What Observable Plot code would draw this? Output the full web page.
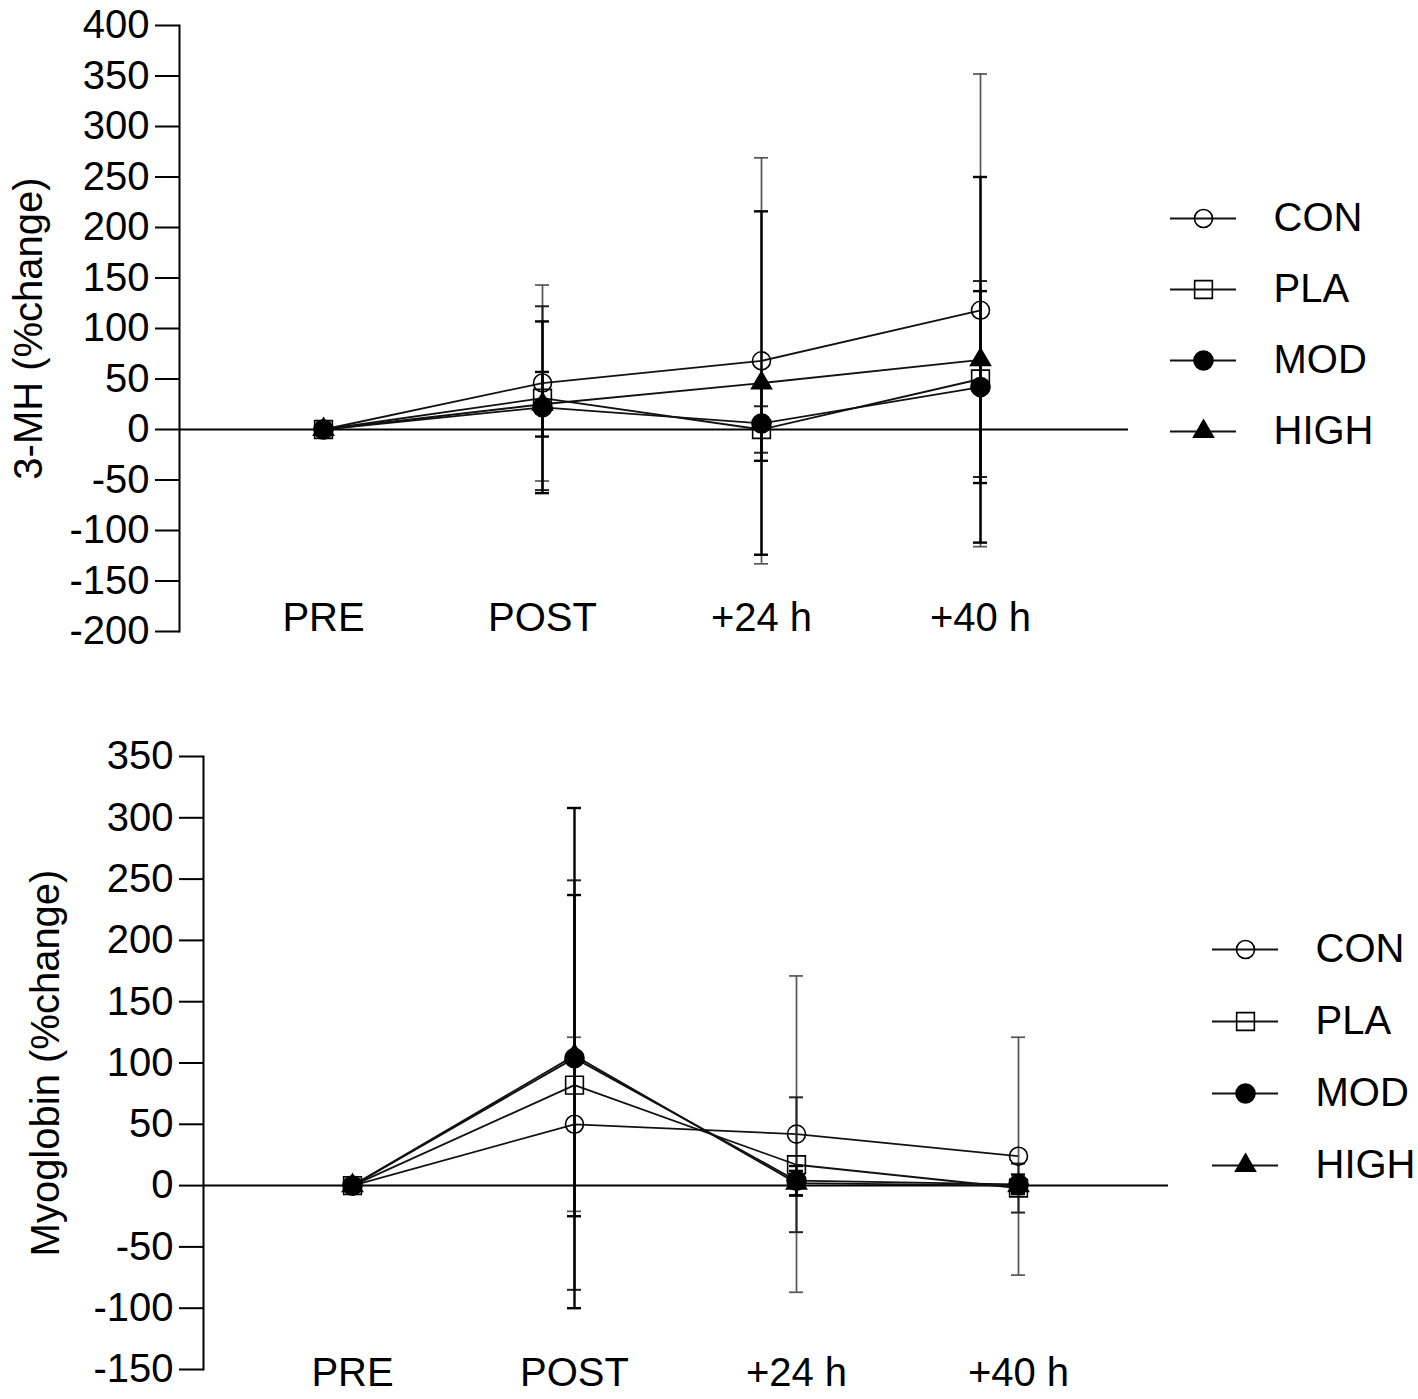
<!DOCTYPE html>
<html><head><meta charset="utf-8">
<script src="https://cdn.jsdelivr.net/npm/d3@7"></script>
<script src="https://cdn.jsdelivr.net/npm/@observablehq/plot@0.6"></script>
<style>
body{margin:0;background:#fff;width:1418px;height:1399px;position:relative;overflow:hidden;font-family:"Liberation Sans",Arial,sans-serif;}
.p{position:absolute;}
svg{max-width:none !important;overflow:visible;}
</style></head><body>
<div id="top" class="p" style="left:0;top:0;width:1418px"></div>
<div id="bottom" class="p" style="left:0;top:700px;width:1418px"></div>
<div id="legTop" class="p" style="left:1170px;top:198px;width:248px"></div>
<div id="legBot" class="p" style="left:1212px;top:928px;width:206px"></div>
<script>
// ---- data ----
const categories = ["PRE", "POST", "+24 h", "+40 h"];
const series = ["CON", "PLA", "MOD", "HIGH"];

// 3-MH (%change): means and SD per group, PRE/POST/+24h/+40h
const mhCON  = [0, 46, 68, 118];
const mhPLA  = [0, 31, 0, 50];
const mhMOD  = [0, 22, 6, 42];
const mhHIGH = [0, 25, 46, 69];
const mhCONsd  = [0, 97, 201, 234];
const mhPLAsd  = [0, 91, 23, 97];
const mhMODsd  = [0, 85, 37, 95];
const mhHIGHsd = [0, 32, 170, 181];
const mhTicks = [-200, -150, -100, -50, 0, 50, 100, 150, 200, 250, 300, 350, 400];

// Myoglobin (%change)
const mbCON  = [0, 50, 42, 24];
const mbPLA  = [0, 82, 17, -2];
const mbMOD  = [0, 104, 4, 1];
const mbHIGH = [0, 106, 2, 0];
const mbCONsd  = [0, 71, 129, 97];
const mbPLAsd  = [0, 167, 55, 20];
const mbMODsd  = [0, 204, 12, 8];
const mbHIGHsd = [0, 131, 10, 6];
const mbTicks = [-150, -100, -50, 0, 50, 100, 150, 200, 250, 300, 350];

// ---- styling per group ----
const symbolOf = {CON: "circle", PLA: "square", MOD: "circle", HIGH: "triangle"};
const fillOf = {CON: "none", PLA: "none", MOD: "black", HIGH: "black"};
const rOf = {CON: 9, PLA: 10, MOD: 9.5, HIGH: 7.4};
const barColor = {CON: "#555", PLA: "#222", MOD: "#000", HIGH: "#000"};
const barWidth = {CON: 1.7, PLA: 2, MOD: 2.4, HIGH: 2.4};
const FONT = "Liberation Sans, Arial, sans-serif";

function rows(means, sds) {
  return series.flatMap((s, i) => categories.map((c, j) => ({group: s, cat: c, mean: means[i][j], sd: sds[i][j]})));
}

function panel({data, ticks, domain, label, width, height, mt, mb, ml, mr, xr, labelOffset, xdy}) {
  const marks = [
    Plot.axisY({ticks, tickSize: 24, tickPadding: 6, strokeWidth: 2, tickFormat: d => String(d),
      label, labelAnchor: "center", labelArrow: "none", labelOffset}),
    Plot.axisX({tickSize: 0, tickPadding: 0, dy: xdy, label: null}),
    Plot.frame({anchor: "left", strokeWidth: 2}),
    Plot.ruleY([0], {strokeWidth: 2})
  ];
  for (const s of series) {
    marks.push(Plot.line(data.filter(d => d.group === s), {x: "cat", y: "mean", stroke: "#111", strokeWidth: 1.8}));
  }
  for (const s of series) {
    const e = data.filter(d => d.group === s && d.sd > 0);
    const st = {stroke: barColor[s], strokeWidth: barWidth[s]};
    marks.push(Plot.ruleX(e, {x: "cat", y1: d => d.mean - d.sd, y2: d => d.mean + d.sd, ...st}));
    marks.push(Plot.ruleY(e, {y: d => d.mean + d.sd, x1: "cat", x2: "cat", insetLeft: -7, insetRight: -7, ...st}));
    marks.push(Plot.ruleY(e, {y: d => d.mean - d.sd, x1: "cat", x2: "cat", insetLeft: -7, insetRight: -7, ...st}));
  }
  for (const s of series) {
    marks.push(Plot.dot(data.filter(d => d.group === s), {x: "cat", y: "mean", symbol: () => symbolOf[s], r: rOf[s],
      fill: fillOf[s], stroke: "black", strokeWidth: 1.6}));
  }
  return Plot.plot({
    width, height, marginTop: mt, marginBottom: mb, marginLeft: ml, marginRight: mr,
    style: {fontFamily: FONT, fontSize: "40px", color: "black", background: "white"},
    x: {type: "point", domain: categories, range: xr, padding: 0},
    y: {domain, ticks},
    symbol: {type: "identity"},
    marks
  });
}

function legend(step) {
  return Plot.plot({
    width: 248, height: 300, marginTop: 0, marginBottom: 0, marginLeft: 0, marginRight: 0,
    style: {fontFamily: FONT, fontSize: "40px", color: "black", background: "transparent"},
    x: {domain: [0, 1], range: [0, 66], axis: null},
    y: {type: "point", domain: series, range: [20, 20 + 3 * step], padding: 0, axis: null},
    symbol: {type: "identity"},
    marks: [
      Plot.ruleY(series, {y: d => d, x1: 0, x2: 1, stroke: "#111", strokeWidth: 1.8}),
      ...series.map(s => Plot.dot([s], {x: 0.5, y: d => d, symbol: () => symbolOf[s], r: rOf[s], fill: fillOf[s], stroke: "black", strokeWidth: 1.6})),
      Plot.text(series, {x: 1, y: d => d, text: d => d, dx: 37, textAnchor: "start", fontSize: 40})
    ]
  });
}

const mhData = rows([mhCON, mhPLA, mhMOD, mhHIGH], [mhCONsd, mhPLAsd, mhMODsd, mhHIGHsd]);
const mbData = rows([mbCON, mbPLA, mbMOD, mbHIGH], [mbCONsd, mbPLAsd, mbMODsd, mbHIGHsd]);

document.getElementById("top").append(panel({
  data: mhData, ticks: mhTicks, domain: [-200, 400], label: "3-MH (%change)",
  width: 1418, height: 680, mt: 25, mb: 49, ml: 179, mr: 290, xr: [323, 980], labelOffset: 166, xdy: -29
}));
document.getElementById("bottom").append(panel({
  data: mbData, ticks: mbTicks, domain: [-150, 350], label: "Myoglobin (%change)",
  width: 1418, height: 699, mt: 56, mb: 30, ml: 203, mr: 250, xr: [351, 1018], labelOffset: 173, xdy: -12
}));
document.getElementById("legTop").append(legend(71));
document.getElementById("legBot").append(legend(72.7));
</script>
</body></html>
